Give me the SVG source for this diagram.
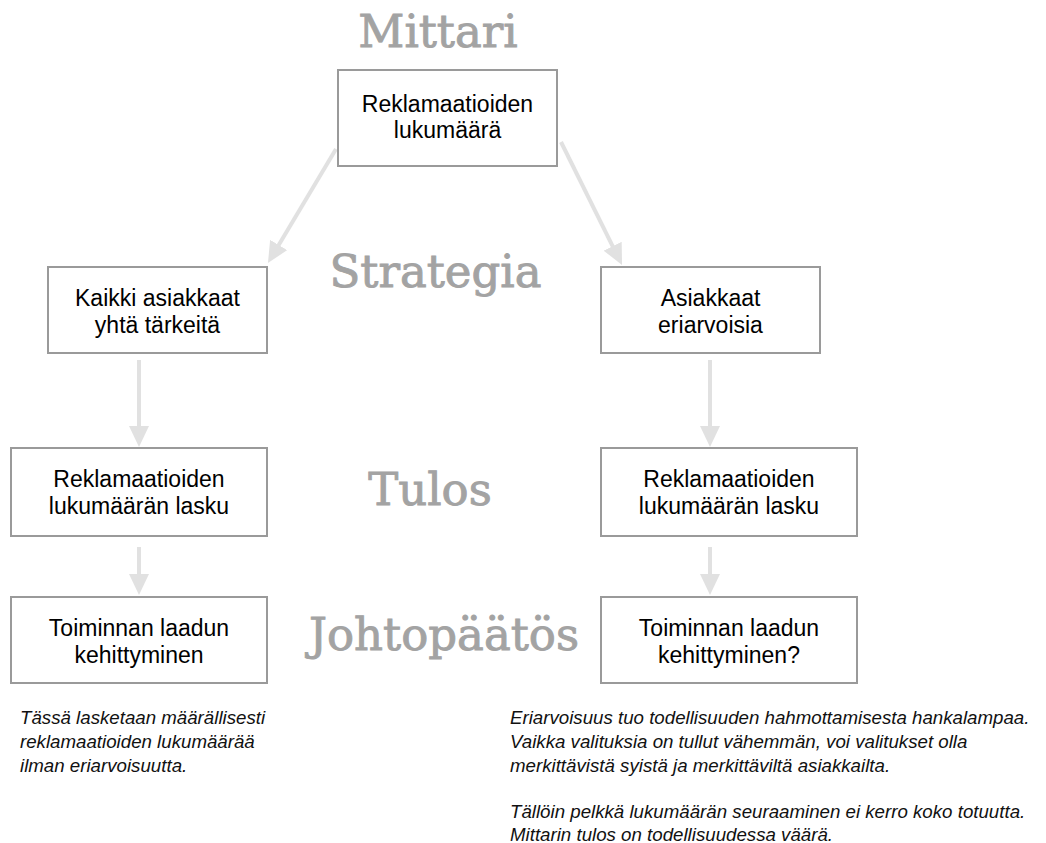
<svg xmlns="http://www.w3.org/2000/svg" width="1046" height="843" viewBox="0 0 1046 843">
<style>
.box{fill:#fff;stroke:#9a9a9a;stroke-width:2}
.bt{font-family:"Liberation Sans",Arial,sans-serif;font-size:23px;fill:#000;text-anchor:middle}
.lbl{font-family:"DejaVu Serif",serif;font-size:45px;fill:#a3a3a3;stroke:#a3a3a3;stroke-width:0.9;text-anchor:middle}
.note{font-family:"Liberation Sans",Arial,sans-serif;font-size:18.7px;font-style:italic;fill:#111}
.conn{stroke:#e1e1e1;stroke-width:4;fill:none;marker-end:url(#ah)}
</style>
<defs>
<marker id="ah" markerUnits="userSpaceOnUse" markerWidth="21" markerHeight="20" refX="9" refY="10" orient="auto">
<path d="M0,0 L21,10 L0,20 z" fill="#e1e1e1"/>
</marker>
</defs>
<rect width="1046" height="843" fill="#fff"/>
<g id="labels">
<text class="lbl" x="438" y="47">Mittari</text>
<text class="lbl" x="435.5" y="287">Strategia</text>
<text class="lbl" x="430" y="505">Tulos</text>
<text class="lbl" x="444" y="650">Johtopäätös</text>
</g>
<g id="connectors">
<line class="conn" x1="336" y1="149" x2="274.1" y2="252.7"/>
<line class="conn" x1="561" y1="142" x2="616.7" y2="254.3"/>
<line class="conn" x1="139" y1="360" x2="139" y2="435"/>
<line class="conn" x1="139" y1="547" x2="139" y2="583"/>
<line class="conn" x1="710" y1="360" x2="710" y2="435"/>
<line class="conn" x1="710" y1="547" x2="710" y2="583"/>
</g>
<g id="mittari">
<rect class="box" x="338" y="70" width="219" height="96"/>
<text class="bt" x="447.5" y="112">Reklamaatioiden</text>
<text class="bt" x="447.5" y="138">lukumäärä</text>
</g>
<g id="strategia-left">
<rect class="box" x="48" y="267" width="219" height="86"/>
<text class="bt" x="157.5" y="306">Kaikki asiakkaat</text>
<text class="bt" x="157.5" y="333">yhtä tärkeitä</text>
</g>
<g id="strategia-right">
<rect class="box" x="601" y="267" width="219" height="86"/>
<text class="bt" x="710.5" y="306">Asiakkaat</text>
<text class="bt" x="710.5" y="333">eriarvoisia</text>
</g>
<g id="tulos-left">
<rect class="box" x="11" y="448" width="256" height="88"/>
<text class="bt" x="139" y="487">Reklamaatioiden</text>
<text class="bt" x="139" y="514">lukumäärän lasku</text>
</g>
<g id="tulos-right">
<rect class="box" x="601" y="448" width="256" height="88"/>
<text class="bt" x="729" y="487">Reklamaatioiden</text>
<text class="bt" x="729" y="514">lukumäärän lasku</text>
</g>
<g id="johtopaatos-left">
<rect class="box" x="11" y="597" width="256" height="86"/>
<text class="bt" x="139" y="636">Toiminnan laadun</text>
<text class="bt" x="139" y="663">kehittyminen</text>
</g>
<g id="johtopaatos-right">
<rect class="box" x="601" y="597" width="256" height="86"/>
<text class="bt" x="729" y="636">Toiminnan laadun</text>
<text class="bt" x="729" y="663">kehittyminen?</text>
</g>
<g id="note-left">
<text class="note" x="20" y="724">Tässä lasketaan määrällisesti</text>
<text class="note" x="20" y="748">reklamaatioiden lukumäärää</text>
<text class="note" x="20" y="772">ilman eriarvoisuutta.</text>
</g>
<g id="note-right">
<text class="note" x="510" y="724">Eriarvoisuus tuo todellisuuden hahmottamisesta hankalampaa.</text>
<text class="note" x="510" y="748">Vaikka valituksia on tullut vähemmän, voi valitukset olla</text>
<text class="note" x="510" y="772">merkittävistä syistä ja merkittäviltä asiakkailta.</text>
<text class="note" x="510" y="818">Tällöin pelkkä lukumäärän seuraaminen ei kerro koko totuutta.</text>
<text class="note" x="510" y="841">Mittarin tulos on todellisuudessa väärä.</text>
</g>
</svg>
